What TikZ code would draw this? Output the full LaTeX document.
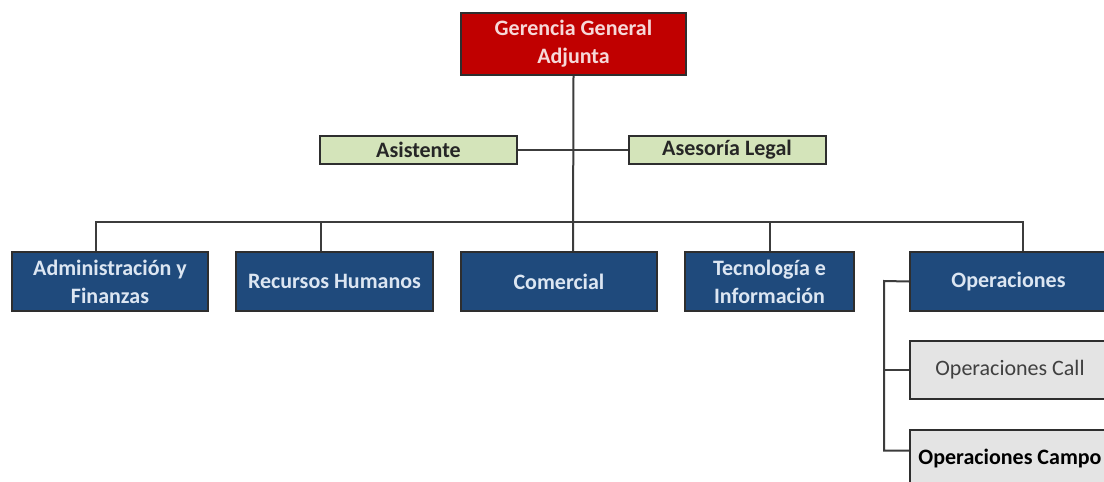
\documentclass[tikz,border=0pt]{standalone}
\usepackage{fontspec}
\setmainfont{Carlito}
\definecolor{gred}{HTML}{C00000}
\definecolor{gredtxt}{HTML}{F6D8D8}
\definecolor{ggreen}{HTML}{D4E4BA}
\definecolor{gblue}{HTML}{1F4A7C}
\definecolor{gbluetxt}{HTML}{DCE6F2}
\definecolor{ggrey}{HTML}{E4E4E4}
\definecolor{gline}{HTML}{3C3C3C}
\definecolor{gborder}{HTML}{2E2E2E}
\begin{document}
\begin{tikzpicture}[x=1pt,y=-1pt,
  base/.style={draw=gborder, line width=2pt, align=center, inner sep=0pt,
    font=\bfseries\fontsize{22}{28}\selectfont},
  topbox/.style={base, fill=gred, text=gredtxt, minimum width=225pt, minimum height=62pt},
  greenbox/.style={base, fill=ggreen, text=black!85, minimum width=197pt, minimum height=28pt},
  bluebox/.style={base, fill=gblue, text=gbluetxt, minimum height=59pt},
  greybox/.style={base, fill=ggrey, minimum width=200pt, minimum height=58pt},
  conn/.style={draw=gline, line width=2pt}
]
\useasboundingbox (0,0) rectangle (1104,482);
\clip (0,0) rectangle (1104,482);
\fill[white] (0,0) rectangle (1104,482);

% connectors (drawn first, under the boxes)
\coordinate (bus) at (573,222);
\coordinate (opeside) at (884,281);

% nodes
\node[topbox] (gg) at (573.5,44) {Gerencia General\\Adjunta};
\node[greenbox] (asis) at (418.5,149.5) {Asistente};
\node[greenbox] (legal) at (727,149.5) {Asesoría Legal};

\node[bluebox, minimum width=196pt] (adm) at (110,281.5) {Administración y\\Finanzas};
\node[bluebox, minimum width=197pt] (rrhh) at (334.5,281.5) {Recursos Humanos};
\node[bluebox, minimum width=196pt] (com) at (559,281.5) {Comercial};
\node[bluebox, minimum width=169pt] (tec) at (769.5,281.5) {Tecnología e\\Información};
\node[bluebox, minimum width=197pt] (ope) at (1008.5,281.5) {Operaciones};

\node[greybox, font=\fontsize{22}{28}\selectfont, text=black!75] (call) at (1010,370) {Operaciones Call};
\node[greybox, text=black] (campo) at (1010,458.5) {Operaciones Campo};

\draw[conn] (gg.south) -- ([xshift=14pt]com.north);
\draw[conn] (asis.east) -- (legal.west);
\draw[conn] ([xshift=-14pt]adm.north) |- (bus) -| ([xshift=14.5pt]ope.north);
\draw[conn] ([xshift=-13.5pt]rrhh.north) -- ++(0,-30);
\draw[conn] (tec.north) -- ++(0,-30);
\draw[conn] (ope.west) -- (opeside) |- ([yshift=8pt]campo.west);
\draw[conn] (opeside |- call.west) -- (call.west);
\end{tikzpicture}
\end{document}
